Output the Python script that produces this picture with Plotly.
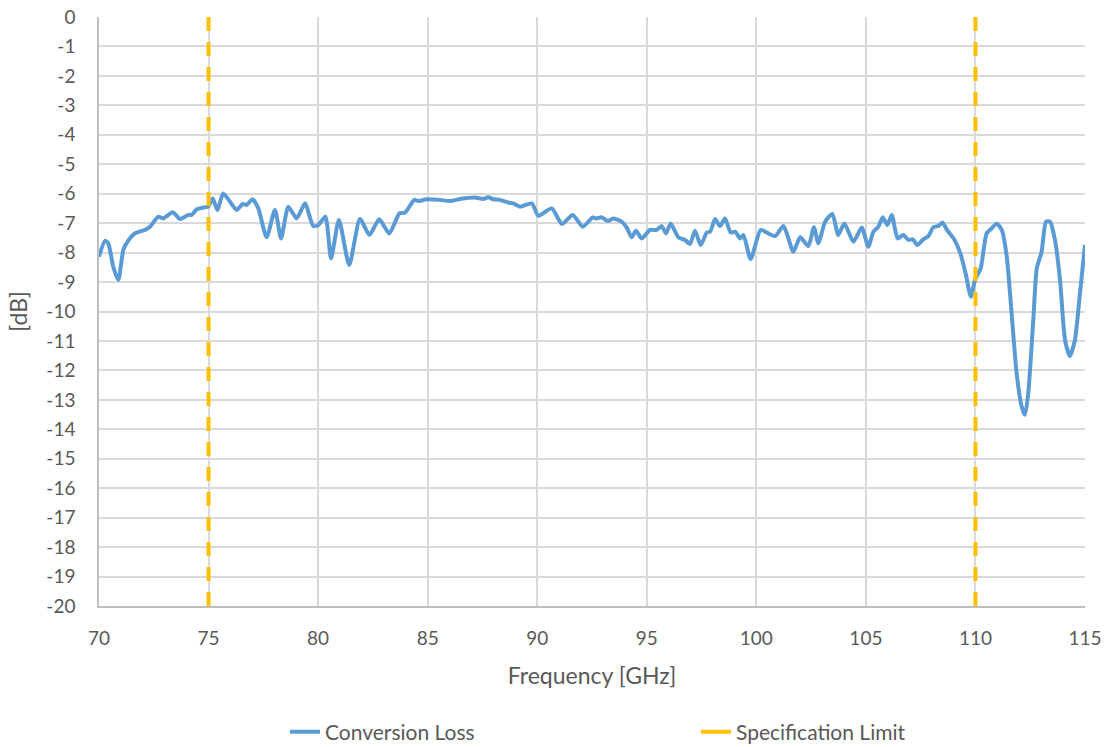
import plotly.graph_objects as go

freq_ghz = [70.0, 70.27, 70.42, 70.65, 70.88, 71.11, 71.26, 71.64, 72.1, 72.33, 72.71, 72.93, 73.36, 73.7,
            74.08, 74.23, 74.46, 74.84, 74.99, 75.19, 75.4, 75.67, 75.98, 76.28, 76.56, 76.74, 77.01, 77.27,
            77.65, 78.03, 78.31, 78.64, 79.02, 79.4, 79.78, 80.01, 80.33, 80.59, 80.95, 81.42, 81.91, 82.34,
            82.79, 83.25, 83.71, 83.97, 84.39, 84.57, 84.96, 85.56, 86.02, 86.48, 87.16, 87.54, 87.77, 88.0,
            88.3, 88.68, 88.91, 89.22, 89.75, 90.05, 90.66, 91.13, 91.62, 92.08, 92.53, 92.71, 92.94, 93.22,
            93.47, 93.85, 94.08, 94.31, 94.51, 94.77, 95.15, 95.45, 95.68, 95.88, 96.09, 96.44, 96.75, 96.97,
            97.2, 97.46, 97.74, 97.89, 98.12, 98.34, 98.57, 98.83, 99.03, 99.26, 99.41, 99.74, 100.2, 100.55,
            100.86, 101.24, 101.69, 102.0, 102.37, 102.63, 102.83, 103.14, 103.47, 103.74, 104.02, 104.43,
            104.81, 105.11, 105.34, 105.57, 105.77, 105.98, 106.18, 106.45, 106.71, 106.94, 107.14, 107.35,
            107.62, 107.85, 108.08, 108.31, 108.49, 108.72, 109.03, 109.3, 109.55, 109.79, 109.98, 110.24,
            110.51, 110.74, 110.97, 111.2, 111.43, 111.65, 111.88, 112.11, 112.26, 112.41, 112.64, 112.8,
            113.02, 113.22, 113.4, 113.63, 113.86, 114.09, 114.31, 114.54, 114.77, 115.0]
conversion_loss_db = [-8.14, -7.6, -7.68, -8.48, -8.93, -7.91, -7.68, -7.35, -7.23, -7.12, -6.78, -6.84, -6.63,
                      -6.86, -6.72, -6.72, -6.53, -6.46, -6.44, -6.16, -6.55, -5.99, -6.27, -6.55, -6.35, -6.38,
                      -6.19, -6.5, -7.48, -6.55, -7.52, -6.44, -6.84, -6.33, -7.1, -7.06, -6.78, -8.2, -6.89,
                      -8.42, -6.86, -7.4, -6.87, -7.35, -6.67, -6.64, -6.21, -6.25, -6.19, -6.21, -6.25, -6.18,
                      -6.13, -6.18, -6.12, -6.19, -6.21, -6.3, -6.33, -6.44, -6.33, -6.75, -6.5, -7.03, -6.72,
                      -7.12, -6.81, -6.84, -6.8, -6.93, -6.84, -6.95, -7.14, -7.48, -7.26, -7.52, -7.23, -7.23,
                      -7.1, -7.35, -7.01, -7.48, -7.57, -7.71, -7.26, -7.74, -7.32, -7.29, -6.86, -7.1, -6.84,
                      -7.32, -7.29, -7.52, -7.4, -8.22, -7.23, -7.35, -7.44, -7.1, -7.97, -7.48, -7.78, -7.14,
                      -7.68, -6.95, -6.69, -7.4, -7.01, -7.63, -7.15, -7.8, -7.29, -7.12, -6.8, -7.06, -6.72,
                      -7.52, -7.4, -7.57, -7.55, -7.74, -7.55, -7.44, -7.14, -7.1, -6.98, -7.25, -7.55, -8.0,
                      -8.7, -9.5, -8.93, -8.53, -7.35, -7.18, -7.01, -7.23, -8.14, -10.06, -12.1, -13.23, -13.51,
                      -12.78, -10.29, -8.53, -7.97, -6.95, -6.95, -7.57, -8.93, -10.97, -11.51, -10.97, -9.38,
                      -7.74]

spec_freq_ghz = [75, 75, None, 110, 110]
spec_db = [0, -20, None, 0, -20]

x_ticks = [70, 75, 80, 85, 90, 95, 100, 105, 110, 115]
y_ticks = list(range(0, -21, -1))

font_family = "Lato, 'Open Sans', sans-serif"
text_color = "#595959"
spec_color = "#FFC000"

fig = go.Figure()
fig.add_trace(go.Scatter(
    x=freq_ghz, y=conversion_loss_db, mode="lines", name="Conversion Loss",
    line=dict(color="#5B9BD5", width=4, shape="spline", smoothing=0.6),
    legend="legend",
))
fig.add_trace(go.Scatter(
    x=spec_freq_ghz, y=spec_db, mode="lines", name="Specification Limit",
    line=dict(color=spec_color, width=4, dash="14px,11px"),
    legendgroup="spec", showlegend=False,
))
# legend entry for the spec limit (solid swatch, as in the reference legend)
fig.add_trace(go.Scatter(
    x=[None], y=[None], mode="lines", name="Specification Limit",
    line=dict(color=spec_color, width=4),
    legendgroup="spec", legend="legend2", hoverinfo="skip",
))

legend_common = dict(orientation="h", xref="container", yref="container", yanchor="middle",
                     xanchor="left", font=dict(size=21, color=text_color),
                     bgcolor="rgba(0,0,0,0)")

fig.update_layout(
    width=1108, height=747,
    margin=dict(l=99, r=23, t=17, b=141),
    paper_bgcolor="white", plot_bgcolor="white",
    font=dict(family=font_family, size=19, color=text_color),
    showlegend=True,
    legend=dict(x=285 / 1108, y=1 - 732 / 747, **legend_common),
    legend2=dict(x=696 / 1108, y=1 - 732 / 747, **legend_common),
    xaxis=dict(range=[70, 115], tickvals=x_ticks, ticktext=[str(v) for v in x_ticks],
               showgrid=True, gridcolor="#D9D9D9", gridwidth=1.5,
               showline=True, linecolor="#BFBFBF", linewidth=1.5,
               ticks="", zeroline=False, automargin=False, ticklabelstandoff=14,
               tickfont=dict(size=19, color=text_color),
               title=dict(text="Frequency [GHz]", font=dict(size=23, color=text_color), standoff=20)),
    yaxis=dict(range=[-20, 0], tickvals=y_ticks, ticktext=[str(v) for v in y_ticks],
               showgrid=True, gridcolor="#D9D9D9", gridwidth=1.5,
               showline=True, linecolor="#BFBFBF", linewidth=1.5,
               ticks="", zeroline=False, automargin=False, ticklabelstandoff=18,
               tickfont=dict(size=19, color=text_color),
               title=dict(text="[dB]", font=dict(size=23, color=text_color), standoff=12)),
)

fig.write_html("out.html",
               config={"displayModeBar": False},
               post_script="document.body.style.margin='0';document.body.style.padding='0';"
                           "window.dispatchEvent(new Event('resize'));")
